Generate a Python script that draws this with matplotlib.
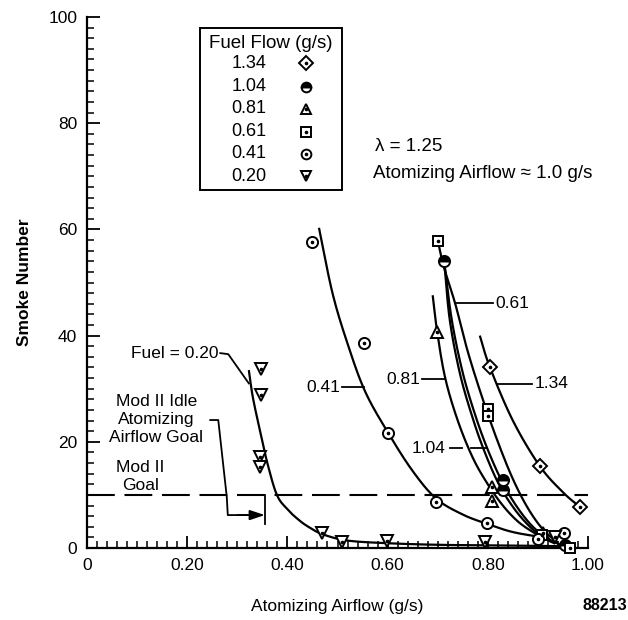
import numpy as np
import matplotlib
matplotlib.use("Agg")
import matplotlib.pyplot as plt

plt.rcParams['font.family'] = ['Liberation Sans', 'DejaVu Sans']
plt.rcParams['lines.scale_dashes'] = False

# ---------------- data ----------------
fuel_labels = ["1.34", "1.04", "0.81", "0.61", "0.41", "0.20"]

# measured points (atomizing airflow g/s, smoke number)
x_134 = [0.804, 0.904, 0.984]
y_134 = [34.1, 15.4, 7.7]
x_104 = [0.713, 0.830, 0.830, 0.955]
y_104 = [54.0, 12.8, 10.9, 0.6]
x_081 = [0.699, 0.808, 0.808, 0.910]
y_081 = [40.7, 11.5, 8.9, 2.8]
x_061 = [0.700, 0.800, 0.800, 0.908, 0.965]
y_061 = [57.8, 26.2, 24.8, 2.4, 0.0]
x_041 = [0.449, 0.553, 0.601, 0.697, 0.798, 0.900, 0.952]
y_041 = [57.6, 38.6, 21.7, 8.7, 4.7, 1.7, 2.8]
x_020 = [0.347, 0.347, 0.345, 0.345, 0.470, 0.509, 0.599, 0.794, 0.934]
y_020 = [33.7, 28.8, 17.1, 15.2, 2.8, 1.2, 1.4, 1.1, 2.1]

# hand-faired curves
cx_134 = [0.784, 0.804, 0.850, 0.904, 0.950, 0.984]
cy_134 = [40.0, 34.1, 24.0, 15.4, 10.5, 7.7]
cx_061 = [0.700, 0.712, 0.735, 0.760, 0.790, 0.820, 0.850, 0.880, 0.910, 0.940]
cy_061 = [58.0, 53.0, 46.0, 37.0, 28.0, 20.0, 13.0, 7.5, 3.5, 1.0]
cx_104a = [0.713, 0.728, 0.750, 0.775, 0.800, 0.830, 0.860, 0.890, 0.920, 0.945]
cy_104a = [54.0, 43.0, 33.0, 25.0, 18.5, 12.2, 7.5, 4.0, 1.8, 0.6]
cx_104b = [0.713, 0.724, 0.744, 0.768, 0.792, 0.821, 0.852, 0.884, 0.914, 0.935]
cy_104b = [54.0, 43.0, 33.0, 25.0, 18.5, 12.2, 7.5, 4.0, 1.8, 0.8]
cx_081 = [0.690, 0.699, 0.715, 0.740, 0.770, 0.800, 0.830, 0.860, 0.890, 0.910]
cy_081 = [47.6, 40.7, 32.0, 24.0, 17.0, 12.0, 8.0, 5.0, 3.0, 2.0]
cx_041 = [0.463, 0.490, 0.520, 0.555, 0.601, 0.650, 0.697, 0.750, 0.800, 0.850, 0.910]
cy_041 = [60.3, 48.0, 38.5, 29.5, 21.7, 14.5, 9.3, 6.3, 4.5, 3.0, 2.0]
cx_020 = [0.323, 0.331, 0.345, 0.360, 0.379, 0.400, 0.420, 0.440, 0.470, 0.520, 0.600, 0.700, 0.800, 0.900, 0.970]
cy_020 = [33.5, 28.4, 22.2, 16.0, 10.0, 7.3, 5.5, 4.1, 2.6, 1.4, 0.9, 0.6, 0.5, 0.4, 0.3]

goal_smoke = 10
x_ticks = [0, 0.2, 0.4, 0.6, 0.8, 1.0]
x_ticklabels = ["0", "0.20", "0.40", "0.60", "0.80", "1.00"]
y_ticks = [0, 20, 40, 60, 80, 100]

# ---------------- helpers ----------------
def smooth(xs, ys, n=20):
    """Catmull-Rom drawing of a faired curve through traced points."""
    p = np.column_stack([xs, ys]).astype(float)
    p = np.vstack([p[0] - (p[1] - p[0]), p, p[-1] + (p[-1] - p[-2])])
    out = []
    t = np.linspace(0, 1, n, endpoint=False)[:, None]
    for i in range(1, len(p) - 2):
        p0, p1, p2, p3 = p[i - 1], p[i], p[i + 1], p[i + 2]
        seg = 0.5 * ((2 * p1) + (-p0 + p2) * t + (2 * p0 - 5 * p1 + 4 * p2 - p3) * t ** 2
                     + (-p0 + 3 * p1 - 3 * p2 + p3) * t ** 3)
        out.append(seg)
    out.append(p[-2][None, :])
    out = np.vstack(out)
    return out[:, 0], out[:, 1]

fig = plt.figure(figsize=(6.28, 6.20), dpi=100)
ax = fig.add_axes([87 / 628, 1 - 548 / 620, (588 - 87) / 628, (548 - 17) / 620])
ax.set_xlim(0, 1.0)
ax.set_ylim(0, 100)

LW = 1.6
for cx, cy in [(cx_134, cy_134), (cx_061, cy_061), (cx_104a, cy_104a), (cx_104b, cy_104b),
               (cx_081, cy_081), (cx_041, cy_041), (cx_020, cy_020)]:
    sx, sy = smooth(cx, cy)
    ax.plot(sx, sy, color='black', lw=LW, solid_capstyle='butt', clip_on=False, zorder=3)

MS = 8
mk = dict(color='black', markerfacecolor='white', markeredgecolor='black', markeredgewidth=1.4,
          linestyle='none', markersize=MS, zorder=5, clip_on=False)
dot = dict(color='black', marker='o', markersize=1.6, linestyle='none', zorder=6, clip_on=False)

def draw_series(xs, ys, marker, centre=True, **extra):
    kw = dict(mk)
    kw.update(extra)
    ax.plot(xs, ys, marker=marker, **kw)
    if centre:
        ax.plot(xs, ys, **dot)

draw_series(x_134, y_134, 'D', markersize=7)
draw_series(x_104, y_104, 'o', centre=False, fillstyle='top', markerfacecolor='black',
            markerfacecoloralt='white')
draw_series(x_081, y_081, '^')
draw_series(x_061, y_061, 's', markersize=7.5)
draw_series(x_041, y_041, 'o')
draw_series(x_020, y_020, 'v')

# goal dashed line
ax.plot([0, 1.0], [goal_smoke, goal_smoke], color='black', lw=1.5, dashes=(20, 7), zorder=2,
        clip_on=False)

# ---------------- axes styling ----------------
for s in ['top', 'right']:
    ax.spines[s].set_visible(False)
for s in ['left', 'bottom']:
    ax.spines[s].set_linewidth(1.6)
ax.set_xticks(x_ticks)
ax.set_xticklabels(x_ticklabels)
ax.set_yticks(y_ticks)
ax.set_xticks(np.arange(0, 1.001, 0.02), minor=True)
ax.set_yticks(np.arange(0, 100.1, 2), minor=True)
ax.tick_params(which='major', direction='in', length=9, width=1.3, labelsize=12.5, pad=7)
ax.tick_params(which='minor', direction='in', length=5, width=1.1)
ax.set_xlabel("Atomizing Airflow (g/s)", fontsize=12.5, labelpad=19)
ax.set_ylabel("Smoke Number", fontsize=12.5, fontweight='bold', labelpad=12)

FS = 12.5
# legend box
ax.add_patch(plt.Rectangle((0.225, 67.4), 0.283, 30.5, fill=False, lw=1.4, ec='black',
                           transform=ax.transData, zorder=4))
ax.text(0.367, 95.0, "Fuel Flow (g/s)", ha='center', va='center', fontsize=13.5)
row_y = [91.3, 86.9, 82.7, 78.4, 74.2, 70.0]
leg_markers = [('D', {}), ('o', dict(fillstyle='top', markerfacecolor='black', markerfacecoloralt='white')),
               ('^', {}), ('s', {}), ('o', {}), ('v', {})]
for lab, yy, (m, extra) in zip(fuel_labels, row_y, leg_markers):
    ax.text(0.358, yy, lab, ha='right', va='center', fontsize=13)
    draw_series([0.437], [yy], m, centre=(m != 'o' or not extra), **dict(extra, markersize=7))

ax.text(0.575, 75.6, "\u03bb = 1.25", ha='left', va='center', fontsize=13.5)
ax.text(0.570, 70.6, "Atomizing Airflow \u2248 1.0 g/s", ha='left', va='center', fontsize=13.5)

# curve labels with leaders
ax.text(0.505, 30.3, "0.41", ha='right', va='center', fontsize=FS)
ax.plot([0.508, 0.553], [30.3, 30.3], color='black', lw=1.3)
ax.text(0.665, 31.8, "0.81", ha='right', va='center', fontsize=FS)
ax.plot([0.668, 0.715], [31.8, 31.8], color='black', lw=1.3)
ax.text(0.815, 46.1, "0.61", ha='left', va='center', fontsize=FS)
ax.plot([0.736, 0.810], [46.1, 46.1], color='black', lw=1.3)
ax.text(0.715, 18.8, "1.04", ha='right', va='center', fontsize=FS)
ax.plot([0.725, 0.748], [18.8, 18.8], color='black', lw=1.3)
ax.plot([0.766, 0.798], [18.8, 18.8], color='black', lw=1.3)
ax.text(0.893, 30.9, "1.34", ha='left', va='center', fontsize=FS)
ax.plot([0.818, 0.888], [30.9, 30.9], color='black', lw=1.3)

ax.text(0.262, 36.7, "Fuel = 0.20", ha='right', va='center', fontsize=FS)
ax.plot([0.266, 0.282, 0.323], [36.7, 36.5, 31.0], color='black', lw=1.3)

ax.text(0.138, 24.2, "Mod II Idle\nAtomizing\nAirflow Goal", ha='center', va='center',
        fontsize=FS, linespacing=1.25)
ax.text(0.106, 13.4, "Mod II\nGoal", ha='center', va='center', fontsize=FS, linespacing=1.25)
ax.plot([0.246, 0.262, 0.279, 0.281, 0.320], [24.1, 24.1, 9.6, 6.2, 6.2], color='black', lw=1.3)
ax.annotate("", xy=(0.355, 6.2), xytext=(0.300, 6.2),
            arrowprops=dict(arrowstyle='-|>,head_length=0.9,head_width=0.3', color='black', lw=1.3,
                            shrinkA=0, shrinkB=0))
ax.plot([0.355, 0.355], [4.6, 10.0], color='black', lw=1.3)

fig.text(0.998, 1 - 605 / 620, "88213", ha='right', va='center', fontsize=11.5, fontweight='bold')

fig.savefig("out.png", dpi=100)
